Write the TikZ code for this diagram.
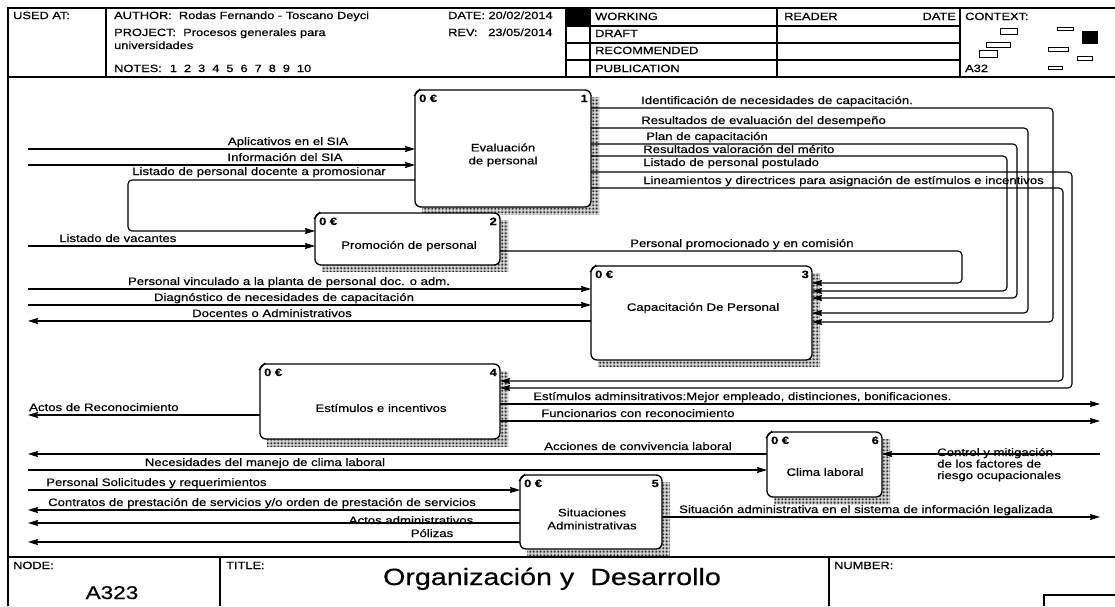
\documentclass[tikz,border=0pt]{standalone}
\usepackage{fontspec}
\setmainfont{Liberation Sans}[FakeStretch=1.22, FakeBold=0.5]
\usetikzlibrary{arrows.meta,patterns.meta}

% activity box: name, left, top, right, bottom, number
\newcommand\actbox[6]{%
  \fill[boxshadow] (#2+7,#3+7) rectangle (#4+8,#5+7);
  \node[act, anchor=north west, minimum width={(#4-#2)*1pt}, minimum height={(#5-#3)*1pt}] (#1) at (#2,#3) {};
  \draw[line width=1.2pt] (#2-1,#3+6) -- (#2+5,#3-1);
  \node[tag, anchor=base west] (#1-cost) at (#2+4,#3+12) {0 €};
  \node[tag, anchor=base east] (#1-num) at (#4-3,#3+12) {#6};
}

\begin{document}
\begin{tikzpicture}[x=1pt,y=-1pt,
  frame/.style={line width=1.2pt},
  thin/.style={line width=0.9pt},
  flow/.style={line width=1.1pt, rounded corners=4pt},
  tip/.style={-{Stealth[length=10pt,width=6pt,inset=1pt]}},
  lab/.style={font=\fontsize{10.8}{12}\selectfont, inner sep=0pt},
  hdr/.style={font=\fontsize{10.5}{12}\selectfont, inner sep=0pt, anchor=base west},
  tag/.style={font=\bfseries\fontsize{10.5}{11}\selectfont, inner sep=0pt},
  boxshadow/.style={pattern={Dots[distance=1.4pt,radius=0.5pt]}, pattern color=black},
  act/.style={draw, line width=1.3pt, rounded corners=6pt, fill=white, inner sep=0pt, outer sep=0pt}
]
\useasboundingbox (0,0) rectangle (1115,606);
\fill[white] (0,0) rectangle (1115,606);

% ---------- frame ----------
\draw[frame] (8,606) -- (8,8) -- (1115,8);
\draw[frame] (8,77) -- (1115,77);
\draw[frame] (8,557) -- (1115,557);
\foreach \x in {106,566,590,777,960} \draw[frame] (\x,8) -- (\x,77);
\foreach \y in {26,43,60} \draw[frame] (566,\y) -- (960,\y);
\fill (566,8) rectangle (590,26);
\draw[frame] (220,557) -- (220,606);
\draw[frame] (829,557) -- (829,606);
\draw[frame] (1044,606) -- (1044,595) -- (1115,595);

% ---------- header texts ----------
\node[hdr] (usedat) at (13,19) {USED AT:};
\node[hdr] (author) at (114,19) {AUTHOR:\ \ Rodas Fernando - Toscano Deyci};
\node[hdr] (date) at (448,19) {DATE: 20/02/2014};
\node[hdr] (project) at (114,36) {PROJECT:\ \ Procesos generales para};
\node[hdr] (project2) at (114,49) {universidades};
\node[hdr] (rev) at (448,36) {REV:\ \ \ 23/05/2014};
\node[hdr] (notes) at (114,72) {NOTES:\hspace{8pt}1\hspace{7pt}2\hspace{7pt}3\hspace{7pt}4\hspace{7pt}5\hspace{7pt}6\hspace{7pt}7\hspace{7pt}8\hspace{7pt}9\hspace{7pt}10};
\node[hdr] (working) at (595,20) {WORKING};
\node[hdr] (draft) at (595,37) {DRAFT};
\node[hdr] (recom) at (595,54) {RECOMMENDED};
\node[hdr] (public) at (595,72) {PUBLICATION};
\node[hdr] (reader) at (784,20) {READER};
\node[hdr, anchor=base east] (rdate) at (956,20) {DATE};
\node[hdr] (context) at (965,20) {CONTEXT:};
\node[hdr] (ctxid) at (965,72) {A32};

% context thumbnail
\begin{scope}[thin]
  \draw (1000,28) rectangle (1017,34);
  \draw (1057,27) rectangle (1073,30);
  \fill (1082,31) rectangle (1098,44);
  \draw (986,42) rectangle (1010,47);
  \draw (979,50) rectangle (997,57);
  \draw (1048,47) rectangle (1068,51);
  \draw (1077,56) rectangle (1092,60);
  \draw (1048,66) rectangle (1062,69);
\end{scope}

% ---------- footer texts ----------
\node[hdr] (nodelbl) at (13,569) {NODE:};
\node[hdr] (titlelbl) at (226,569) {TITLE:};
\node[hdr] (numlbl) at (834,569) {NUMBER:};
\node[inner sep=0pt, anchor=base, font=\fontsize{18.5}{20}\selectfont] (nodeid) at (112,599) {A323};
\node[inner sep=0pt, anchor=base, font=\fontsize{23.5}{26}\selectfont] (title) at (552,585) {Organización y~ Desarrollo};

% ---------- activities ----------
\actbox{b1}{415}{90}{591}{207}{1}
\actbox{b2}{315}{213}{500}{265}{2}
\actbox{b3}{591}{266}{812}{360}{3}
\actbox{b4}{260}{364}{500}{439}{4}
\actbox{b5}{520}{475}{662}{549}{5}
\actbox{b6}{767}{432}{882}{497}{6}

\node[lab, align=center] (b1-name) at (503,155) {Evaluación\\[1pt]de personal};
\node[lab] (b2-name) at (409,246) {Promoción de personal};
\node[lab] (b3-name) at (703,308) {Capacitación De Personal};
\node[lab] (b4-name) at (381,408) {Estímulos e incentivos};
\node[lab, align=center] (b5-name) at (592,519) {Situaciones\\[1pt]Administrativas};
\node[lab] (b6-name) at (825,472) {Clima laboral};

% ---------- boundary points ----------
\coordinate (inApl) at (28,149);
\coordinate (inInf) at (28,165);
\coordinate (inVac) at (28,246);
\coordinate (inVinc) at (28,289);
\coordinate (inDiag) at (28,305);
\coordinate (outDoc) at (28,321);
\coordinate (outRec) at (28,415);
\coordinate (outEst) at (1100,404);
\coordinate (outFunc) at (1100,421);
\coordinate (outAcc) at (28,454);
\coordinate (inNec) at (28,470);
\coordinate (inCtrl) at (1100,454);
\coordinate (inSol) at (28,490);
\coordinate (outCont) at (28,510);
\coordinate (outActos) at (28,523);
\coordinate (outPol) at (28,542);
\coordinate (outSit) at (1100,517);

% ---------- connectors ----------
\draw[flow,tip] (inApl) -- (b1.west |- inApl);
\draw[flow,tip] (inInf) -- (b1.west |- inInf);
\draw[flow,tip] (b1.west |- 0,180) -- (128,180) -- (128,231) -- (b2.west |- 0,231);
\draw[flow,tip] (inVac) -- (b2.west |- inVac);
\draw[flow,tip] (b2.east |- 0,251) -- (962,251) -- (962,283) -- (b3.east |- 0,283);
\draw[flow,tip] (b1.east |- 0,108) -- (1053,108) -- (1053,322) -- (b3.east |- 0,322);
\draw[flow,tip] (b1.east |- 0,128) -- (1028,128) -- (1028,313) -- (b3.east |- 0,313);
\draw[flow,tip] (b1.east |- 0,144) -- (1017,144) -- (1017,298) -- (b3.east |- 0,298);
\draw[flow,tip] (b1.east |- 0,156) -- (1007,156) -- (1007,291) -- (b3.east |- 0,291);
\draw[flow,tip] (b1.east |- 0,172) -- (1072,172) -- (1072,388) -- (b4.east |- 0,388);
\draw[flow,tip] (b1.east |- 0,188) -- (1063,188) -- (1063,381) -- (b4.east |- 0,381);
\draw[flow,tip] (inVinc) -- (b3.west |- inVinc);
\draw[flow,tip] (inDiag) -- (b3.west |- inDiag);
\draw[flow,tip] (b3.west |- outDoc) -- (outDoc);
\draw[flow,tip] (b4.west |- outRec) -- (outRec);
\draw[flow,tip] (b4.east |- outEst) -- (outEst);
\draw[flow,tip] (b4.east |- outFunc) -- (outFunc);
\draw[flow,tip] (b6.west |- outAcc) -- (outAcc);
\draw[flow,tip] (inNec) -- (b6.west |- inNec);
\draw[flow,tip] (inCtrl) -- (b6.east |- inCtrl);
\draw[flow,tip] (inSol) -- (b5.west |- inSol);
\draw[flow,tip] (b5.west |- outCont) -- (outCont);
\draw[flow,tip] (b5.west |- outActos) -- (outActos);
\draw[flow,tip] (b5.west |- outPol) -- (outPol);
\draw[flow,tip] (b5.east |- outSit) -- (outSit);

% ---------- connector labels ----------
\node[lab, anchor=base] (lApl) at (288,145) {Aplicativos en el SIA};
\node[lab, anchor=base] (lInf) at (285,161) {Información del SIA};
\node[lab, anchor=base] (lDocPro) at (259,175) {Listado de personal docente a promosionar};
\node[lab, anchor=base west] (lVac) at (59,242) {Listado de vacantes};
\node[lab, anchor=base west] (lPromo) at (630,247) {Personal promocionado y en comisión};
\node[lab, anchor=base west] (lIdent) at (641,104) {Identificación de necesidades de capacitación.};
\node[lab, anchor=base west] (lResEv) at (641,124) {Resultados de evaluación del desempeño};
\node[lab, anchor=base west] (lPlan) at (646,140) {Plan de capacitación};
\node[lab, anchor=base west] (lValor) at (643,153) {Resultados valoración del mérito};
\node[lab, anchor=base west] (lPost) at (643,166) {Listado de personal postulado};
\node[lab, anchor=base west] (lLinea) at (643,184) {Lineamientos y directrices para asignación de estímulos e incentivos};
\node[lab, anchor=base] (lVinc) at (289,285) {Personal vinculado a la planta de personal doc. o adm.};
\node[lab, anchor=base] (lDiag) at (284,301) {Diagnóstico de necesidades de capacitación};
\node[lab, anchor=base] (lDoc) at (272,317) {Docentes o Administrativos};
\node[lab, anchor=base west] (lRec) at (29,411) {Actos de Reconocimiento};
\node[lab, anchor=base west] (lEst) at (533,400) {Estímulos adminsitrativos:Mejor empleado, distinciones, bonificaciones.};
\node[lab, anchor=base west] (lFunc) at (541,417) {Funcionarios con reconocimiento};
\node[lab, anchor=base] (lAcc) at (638,450) {Acciones de convivencia laboral};
\node[lab, anchor=base] (lNec) at (265,466) {Necesidades del manejo de clima laboral};
\node[lab, anchor=base west, align=left] (lCtrl) at (937,479) {Control y mitigación\\[-0.5pt]de los factores de\\[-0.5pt]riesgo ocupacionales};
\node[lab, anchor=base west] (lSol) at (46,486) {Personal Solicitudes y requerimientos};
\node[lab, anchor=base] (lCont) at (262,506) {Contratos de prestación de servicios y/o orden de prestación de servicios};
\node[lab, anchor=base] (lActos) at (411,524) {Actos administrativos};
\node[lab, anchor=base] (lPol) at (432,537) {Pólizas};
\node[lab, anchor=base west] (lSit) at (679,513) {Situación administrativa en el sistema de información legalizada};

\end{tikzpicture}
\end{document}
